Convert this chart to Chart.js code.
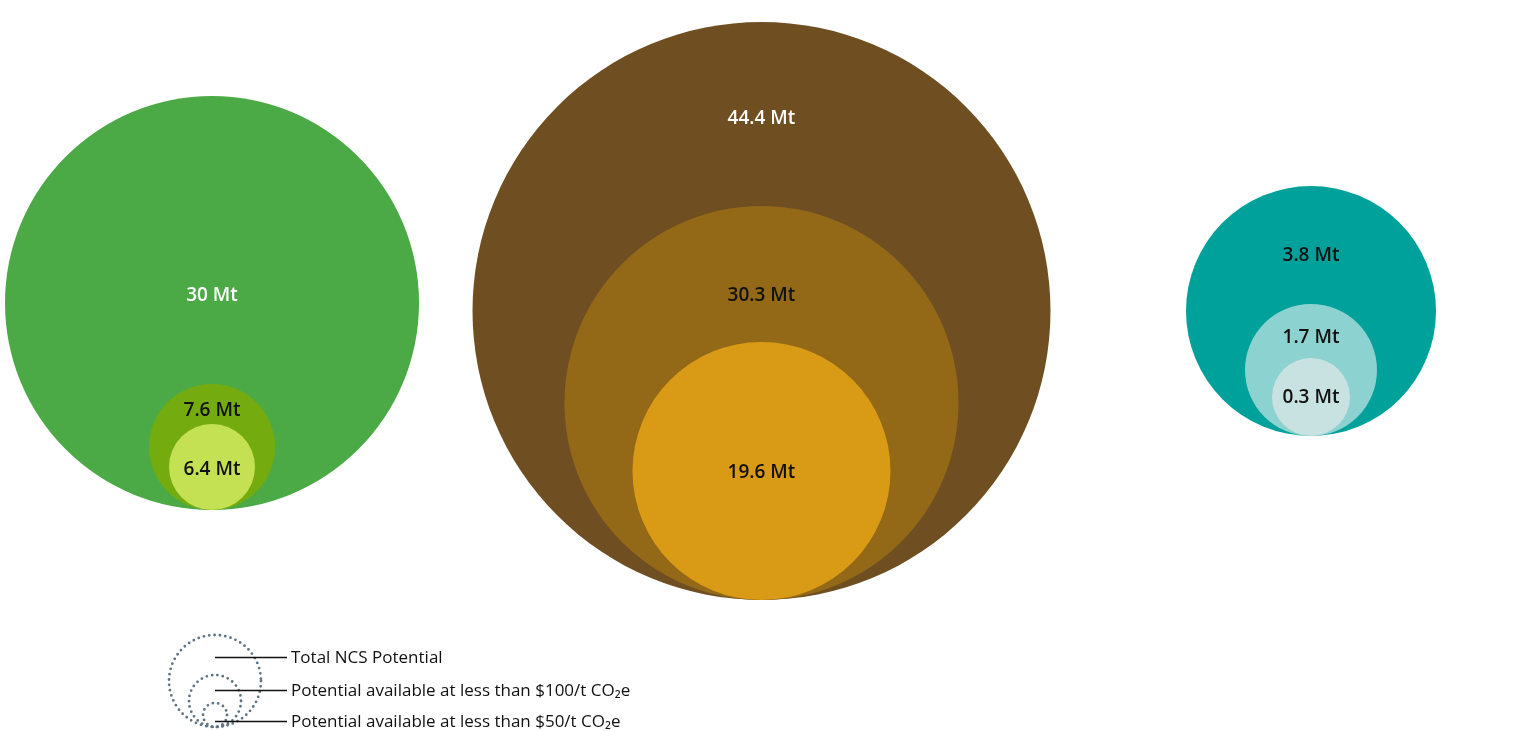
<!DOCTYPE html>
<html>
<head>
<meta charset="utf-8">
<script src="https://cdn.jsdelivr.net/npm/chart.js@4.4.1/dist/chart.umd.min.js"></script>
<style>
  html, body { margin: 0; padding: 0; background: #fff; }
  #wrap { position: relative; width: 1527px; height: 731px; }
</style>
</head>
<body>
<div id="wrap"><canvas id="chartNCS"></canvas></div>
<script>
// datos (Mt CO2e)
const grupos = ['Bosques', 'Turberas', 'Humedales'];
const potencialTotal = [30, 44.4, 3.8];
const potencial100 = [7.6, 30.3, 1.7];
const potencial50 = [6.4, 19.6, 0.3];
const leyenda = ['Total NCS Potential', 'Potential available at less than $100/t CO₂e', 'Potential available at less than $50/t CO₂e'];

// estilo / tamaños de dibujo (radio en px tal como aparece en la figura)
const radios = [[207, 63, 43], [289, 197, 129], [125, 66, 39]];
const baseGrupo = [510, 600, 436];        // línea inferior de cada grupo (unidades del eje y)
const desplazEtiqueta = [[-9, -38, 1], [-194, -109, 0], [-57, -34, -1]];
const colores = [
  ['#4baa45', '#74ac0f', '#c4e153'],
  ['#6f4f21', '#936918', '#d99b16'],
  ['#00a19a', '#8bd2d0', '#c8e1e1']
];
const colorTexto = [
  ['#fff', '#111', '#111'],
  ['#fff', '#111', '#111'],
  ['#111', '#111', '#111']
];

const niveles = [potencialTotal, potencial100, potencial50];

function armarDataset(nivel) {
  return {
    label: leyenda[nivel],
    order: 3 - nivel,   // el círculo interior va encima
    data: grupos.map((g, i) => ({
      x: i,
      y: baseGrupo[i] - radios[i][nivel],
      r: radios[i][nivel],
      valor: niveles[nivel][i]
    })),
    backgroundColor: grupos.map((g, i) => colores[i][nivel]),
    borderWidth: 0,
    hoverBorderWidth: 0,
    clip: false
  };
}

const etiquetasPlugin = {
  id: 'etiquetas',
  afterDatasetsDraw(chart) {
    const ctx = chart.ctx;
    ctx.save();
    ctx.font = '600 19px "Open Sans", sans-serif';
    ctx.textAlign = 'center';
    ctx.textBaseline = 'middle';
    chart.data.datasets.forEach((ds, nivel) => {
      const meta = chart.getDatasetMeta(nivel);
      meta.data.forEach((el, i) => {
        ctx.fillStyle = colorTexto[i][nivel];
        ctx.fillText(ds.data[i].valor + ' Mt', el.x, el.y + desplazEtiqueta[i][nivel] + 2);
      });
    });
    ctx.restore();
  }
};

const leyendaPlugin = {
  id: 'leyendaCirculos',
  afterDraw(chart) {
    const ctx = chart.ctx;
    ctx.save();
    // círculos punteados
    ctx.strokeStyle = '#5f7482';
    ctx.lineWidth = 2.8;
    ctx.lineCap = 'round';
    ctx.setLineDash([0, 5.4]);
    const cx = 215, base = 727;
    [46, 26, 12].forEach(r => {
      ctx.beginPath();
      ctx.arc(cx, base - r, r, 0, Math.PI * 2);
      ctx.stroke();
    });
    ctx.setLineDash([]);
    ctx.lineCap = 'butt';
    // líneas y textos
    ctx.strokeStyle = '#111';
    ctx.lineWidth = 1.3;
    ctx.fillStyle = '#111';
    ctx.font = '17px "Open Sans", sans-serif';
    ctx.textAlign = 'left';
    ctx.textBaseline = 'middle';
    const ys = [657, 690, 721];
    leyenda.forEach((t, k) => {
      ctx.beginPath();
      ctx.moveTo(215, ys[k] + 0.5);
      ctx.lineTo(287, ys[k] + 0.5);
      ctx.stroke();
      ctx.fillText(t, 291, ys[k] + 1);
    });
    ctx.restore();
  }
};

document.addEventListener('DOMContentLoaded', () => {
  const ctx = document.getElementById('chartNCS').getContext('2d');
  new Chart(ctx, {
    type: 'bubble',
    data: { datasets: [armarDataset(0), armarDataset(1), armarDataset(2)] },
    options: {
      responsive: true,
      maintainAspectRatio: false,
      animation: false,
      layout: { padding: 0, autoPadding: false },
      events: [],
      plugins: { legend: { display: false }, tooltip: { enabled: false } },
      scales: {
        x: { type: 'linear', display: false, min: -212 / 549.5, max: (1527 - 212) / 549.5 },
        y: { type: 'linear', display: false, min: 0, max: 731, reverse: true }
      }
    },
    plugins: [etiquetasPlugin, leyendaPlugin]
  });
});
</script>
</body>
</html>
